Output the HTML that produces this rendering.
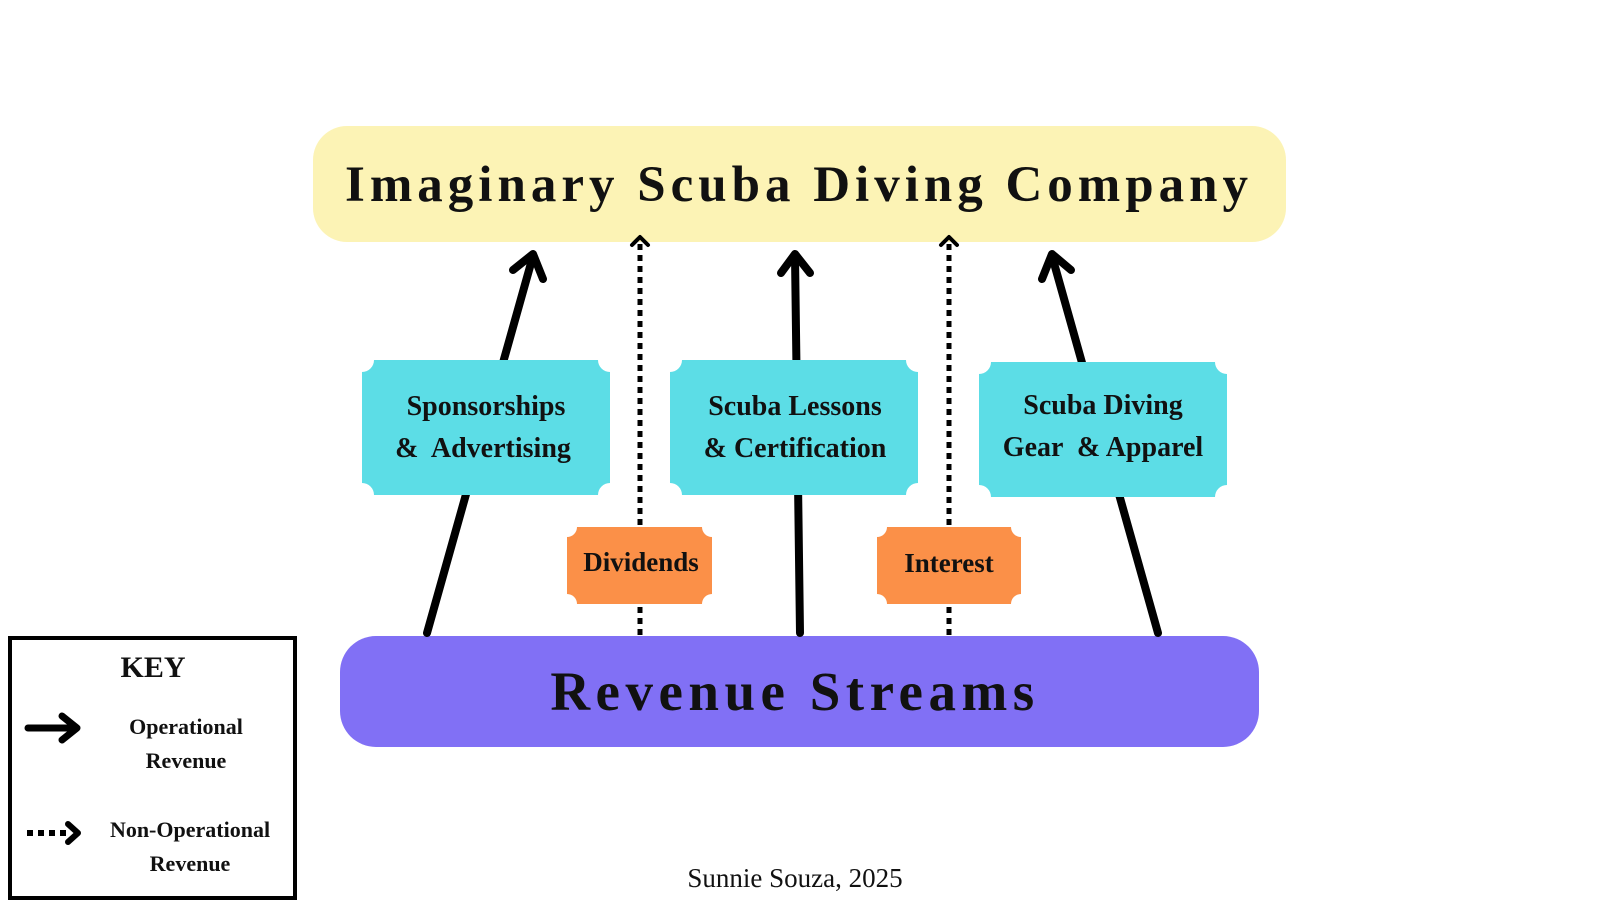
<!DOCTYPE html>
<html><head><meta charset="utf-8"><style>
html,body{margin:0;padding:0;background:#fff;}
svg{display:block;}
text{font-family:"Liberation Serif",serif;font-weight:bold;fill:#111;}
</style></head><body>
<svg width="1600" height="900" viewBox="0 0 1600 900" xmlns="http://www.w3.org/2000/svg">
<rect x="313" y="126" width="973" height="116" rx="34" fill="#fcf3b5"/>
<text x="799" y="201" font-size="51" text-anchor="middle" letter-spacing="5">Imaginary Scuba Diving Company</text>
<rect x="340" y="636" width="919" height="111" rx="36" fill="#8170f5"/>
<text x="795" y="710" font-size="55" text-anchor="middle" letter-spacing="5.5">Revenue Streams</text>
<g stroke="#000" stroke-width="8" fill="none" stroke-linecap="round" stroke-linejoin="round">
<line x1="427" y1="633" x2="533" y2="256"/>
<polyline points="513,270 533,254 543,279"/>
<line x1="800" y1="633" x2="795" y2="256"/>
<polyline points="781,273 795,254 810,273"/>
<line x1="1158" y1="633" x2="1052" y2="256"/>
<polyline points="1042,279 1052,254 1071,270"/>
</g>
<g stroke="#000" stroke-width="5" fill="none">
<line x1="640" y1="635" x2="640" y2="244" stroke-dasharray="6,5"/>
<line x1="949" y1="635" x2="949" y2="244" stroke-dasharray="6,5"/>
</g>
<g stroke="#000" stroke-width="4" fill="none" stroke-linecap="round" stroke-linejoin="round">
<polyline points="632,245 640,237 648,245"/>
<polyline points="941,245 949,237 957,245"/>
</g>
<g fill="#5cdde6">
<path d="M374,360 H598 A12,12 0 0 0 610,372 V483 A12,12 0 0 0 598,495 H374 A12,12 0 0 0 362,483 V372 A12,12 0 0 0 374,360 Z"/>
<path d="M682,360 H906 A12,12 0 0 0 918,372 V483 A12,12 0 0 0 906,495 H682 A12,12 0 0 0 670,483 V372 A12,12 0 0 0 682,360 Z"/>
<path d="M991,362 H1215 A12,12 0 0 0 1227,374 V485 A12,12 0 0 0 1215,497 H991 A12,12 0 0 0 979,485 V374 A12,12 0 0 0 991,362 Z"/>
</g>
<g fill="#fb9048">
<path d="M577,527 H702 A10,10 0 0 0 712,537 V594 A10,10 0 0 0 702,604 H577 A10,10 0 0 0 567,594 V537 A10,10 0 0 0 577,527 Z"/>
<path d="M887,527 H1011 A10,10 0 0 0 1021,537 V594 A10,10 0 0 0 1011,604 H887 A10,10 0 0 0 877,594 V537 A10,10 0 0 0 887,527 Z"/>
</g>
<g font-size="28" text-anchor="middle">
<text x="486" y="415">Sponsorships</text>
<text x="483" y="457" xml:space="preserve">&amp;  Advertising</text>
<text x="795" y="415">Scuba Lessons</text>
<text x="795" y="457">&amp; Certification</text>
<text x="1103" y="414">Scuba Diving</text>
<text x="1103" y="456" xml:space="preserve">Gear  &amp; Apparel</text>
<text x="641" y="571" font-size="27">Dividends</text>
<text x="949" y="572" font-size="27">Interest</text>
</g>
<rect x="10" y="638" width="285" height="260" fill="none" stroke="#000" stroke-width="4"/>
<text x="153" y="677" font-size="30" text-anchor="middle">KEY</text>
<g font-size="22" text-anchor="middle">
<text x="186" y="734">Operational</text>
<text x="186" y="768">Revenue</text>
<text x="190" y="837">Non-Operational</text>
<text x="190" y="871">Revenue</text>
</g>
<g stroke="#000" stroke-width="7" fill="none" stroke-linecap="round" stroke-linejoin="round">
<line x1="28" y1="728" x2="76" y2="728"/>
<polyline points="62,716 77,728 62,740"/>
</g>
<g stroke="#000" stroke-width="6" fill="none" stroke-linecap="round" stroke-linejoin="round">
<line x1="27" y1="833" x2="66" y2="833" stroke-dasharray="6,5" stroke-linecap="butt"/>
<polyline points="68,824 78,833 68,842"/>
</g>
<text x="795" y="887" font-size="27" text-anchor="middle" style="font-weight:normal">Sunnie Souza, 2025</text>
</svg>
</body></html>
